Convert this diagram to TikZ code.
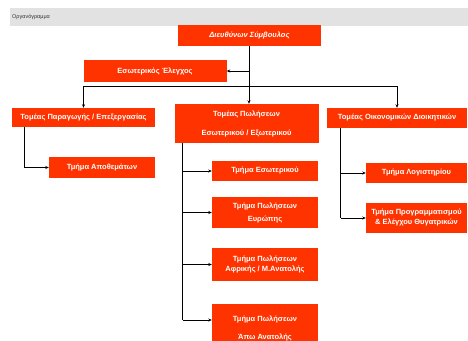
\documentclass[tikz,border=0pt]{standalone}
\usepackage{fontspec}
\setmainfont{Liberation Sans}
\usetikzlibrary{arrows.meta}
\definecolor{unitred}{HTML}{FF3300}
\definecolor{barGray}{HTML}{E2E2E2}
\tikzset{
    unit/.style={draw=none, fill=unitred, text=white, align=center,
        font=\fontsize{7.5}{10}\selectfont\bfseries, inner sep=1pt},
    link/.style={thick, -{Stealth[length=3.5pt,width=3pt]}},
    wire/.style={thick}
}
\begin{document}
\begin{tikzpicture}[x=1pt, y=-1pt]
    \useasboundingbox (0,0) rectangle (468,340);
    \begin{scope}
    \clip (0,0) rectangle (468,340);

    % header bar
    \fill[barGray] (10,8) rectangle (468,26);
    \node[anchor=west, font=\fontsize{5.5}{6}\selectfont, text=black!80, inner sep=0pt]
        (title) at (12,17) {Οργανόγραμμα};

    % units
    \node[unit, minimum width=143pt, minimum height=21pt] (ceo) at (249.5,35.5)
        {\itshape Διευθύνων Σύμβουλος};
    \node[unit, minimum width=143pt, minimum height=22pt] (audit) at (155,71)
        {\raisebox{-3pt}{Εσωτερικός Έλεγχος}};
    \node[unit, minimum width=143pt, minimum height=19pt] (prod) at (83.5,117.5)
        {Τομέας Παραγωγής / Επεξεργασίας};
    \node[unit, minimum width=144pt, minimum height=39pt] (sales) at (246.5,123.5)
        {Τομέας Πωλήσεων\\[9pt]Εσωτερικού / Εξωτερικού};
    \node[unit, minimum width=140pt, minimum height=20pt] (fin) at (397,118)
        {Τομέας Οικονομικών Διοικητικών};

    \node[unit, minimum width=106pt, minimum height=21pt] (stock) at (102,167.5)
        {Τμήμα Αποθεμάτων};

    \node[unit, minimum width=106pt, minimum height=20pt] (home) at (265,171)
        {Τμήμα Εσωτερικού};
    \node[unit, minimum width=106pt, minimum height=31pt] (europe) at (265,212.5)
        {Τμήμα Πωλήσεων\\[3pt]Ευρώπης};
    \node[unit, minimum width=106pt, minimum height=33pt] (africa) at (265,264.5)
        {Τμήμα Πωλήσεων\\Αφρικής / Μ.Ανατολής};
    \node[unit, minimum width=106pt, minimum height=48pt] (fareast) at (265,328)
        {Τμήμα Πωλήσεων\\[8pt]Άπω Ανατολής};

    \node[unit, minimum width=101pt, minimum height=20pt] (books) at (416.5,173)
        {Τμήμα Λογιστηρίου};
    \node[unit, minimum width=101pt, minimum height=30pt] (plan) at (416.5,218)
        {Τμήμα Προγραμματισμού\\\& Ελέγχου Θυγατρικών};

    % connectors from the top
    \coordinate (bus) at (249,86);
    \draw[wire] (ceo.south -| bus) -- (bus);
    \draw[link] (audit.east -| bus) -- (audit.east);
    \draw[wire] (prod.north |- bus) -- (fin.north |- bus);
    \draw[link] (prod.north |- bus) -- (prod.north);
    \draw[link] (bus) -- (bus |- sales.north);
    \draw[link] (fin.north |- bus) -- (fin.north);

    % production branch
    \coordinate (prodLine) at ([xshift=13pt]prod.south west);
    \draw[wire] (prodLine) -- (prodLine |- stock.west);
    \draw[link] (prodLine |- stock.west) -- (stock.west);

    % sales branch
    \coordinate (salesLine) at ([xshift=8.5pt]sales.south west);
    \coordinate (salesEnd) at (salesLine |- 0,320);
    \draw[wire] (salesLine) -- (salesEnd);
    \foreach \dept in {home, europe, africa}
        \draw[link] (salesLine |- \dept.west) -- (\dept.west);
    \draw[link] (salesEnd) -- (salesEnd -| fareast.west);

    % finance branch
    \coordinate (finLine) at ([xshift=14pt]fin.south west);
    \draw[wire] (finLine) -- (finLine |- plan.west);
    \foreach \dept in {books, plan}
        \draw[link] (finLine |- \dept.west) -- (\dept.west);
    \end{scope}
\end{tikzpicture}
\end{document}
